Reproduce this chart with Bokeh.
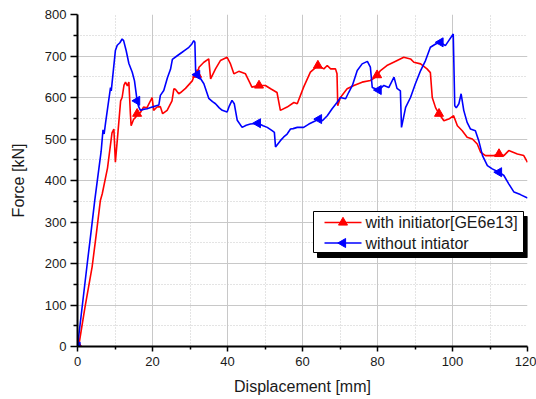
import numpy as np
from bokeh.plotting import figure
from bokeh.models import Range1d, FixedTicker, Label
from bokeh.embed import file_html
from bokeh.resources import INLINE

# ---- data (Displacement [mm], Force [kN]) ----
red_x = [0.3, 2.0, 3.9, 5.0, 6.1, 6.6, 8.0, 9.2, 9.7, 10.1, 10.6, 11.5, 11.9, 12.4, 12.8, 13.3, 13.7,
         14.1, 14.3, 15.0, 15.5, 15.9, 16.8, 17.6, 18.5, 19.9, 20.3, 21.2, 22.1, 22.7, 23.9, 25.2,
         25.7, 26.1, 27.0, 27.5, 28.8, 30.6, 31.0, 31.9, 32.4, 33.7, 35.0, 35.5, 36.8, 38.1, 39.9,
         40.8, 41.7, 43.0, 44.8, 46.1, 46.5, 48.4, 50.1, 51.5, 53.2, 54.1, 55.9, 57.7, 58.6, 60.3,
         62.1, 64.1, 65.7, 66.6, 67.5, 68.8, 69.2, 69.4, 70.1, 71.9, 73.7, 75.9, 78.1, 79.5, 80.8,
         82.5, 84.3, 87.0, 88.8, 89.7, 91.5, 93.2, 94.1, 94.6, 95.5, 96.4, 97.7, 99.0, 100.3, 101.3,
         102.6, 103.9, 105.3, 106.6, 107.5, 108.8, 111.0, 112.4, 113.7, 115.0, 117.3, 119.0, 120.0]
red_y = [0, 95, 192, 270, 352, 368, 430, 515, 524, 444, 496, 592, 600, 630, 637, 628, 637,
         561, 532, 548, 552, 561, 564, 577, 575, 600, 569, 577, 578, 561, 569, 592,
         621, 620, 609, 612, 622, 640, 650, 655, 673, 685, 693, 645, 669, 689, 697,
         681, 657, 663, 657, 633, 625, 629, 629, 621, 612, 569, 577, 588, 585, 625,
         661, 677, 669, 677, 669, 669, 657, 580, 600, 621, 629, 637, 641, 649, 665,
         677, 685, 697, 693, 685, 681, 669, 660, 600, 575, 561, 544, 548, 556, 532,
         520, 504, 500, 488, 468, 460, 460, 464, 460, 472, 464, 460, 444]

blue_x = [0, 1.3, 2.6, 3.6, 4.6, 5.5, 6.3, 6.8, 7.1, 7.5, 8.2, 8.8, 9.0, 9.5, 10.1, 10.6, 11.3, 11.9,
          12.3, 13.0, 13.7, 14.6, 15.2, 15.9, 16.3, 16.8, 17.8, 18.6, 19.5, 20.3, 21.0, 21.7, 22.1,
          23.0, 24.0, 24.8, 25.3, 26.5, 27.9, 28.5, 29.7, 30.5, 31.0, 31.3, 31.5, 31.9, 32.5, 33.7,
          35.0, 36.0, 36.8, 37.8, 38.6, 39.9, 40.5, 41.2, 41.8, 42.6, 43.9, 45.0, 46.1, 48.1, 49.5,
          50.6, 51.9, 52.5, 52.8, 54.1, 55.0, 55.9, 56.8, 57.5, 58.6, 60.3, 61.7, 63.5, 64.4, 65.3,
          66.6, 67.9, 69.2, 70.1, 71.5, 72.3, 73.3, 74.6, 75.9, 77.3, 78.1, 78.6, 80.3, 81.7, 83.0,
          84.4, 85.2, 86.1, 86.4, 87.5, 88.8, 90.1, 91.5, 92.8, 94.1, 95.5, 96.8, 98.1, 99.0, 100.2,
          100.6, 101.0, 101.7, 102.3, 103.0, 103.9, 104.8, 106.1, 107.0, 108.0, 109.3, 110.6, 112.4,
          113.7, 115.0, 116.4, 118.1, 120.0]
blue_y = [0, 100, 200, 275, 352, 415, 470, 522, 512, 540, 585, 624, 616, 660, 713, 726, 732, 741,
          737, 712, 682, 661, 640, 592, 578, 569, 572, 573, 576, 578, 580, 582, 605,
          617, 648, 668, 692, 700, 709, 713, 721, 729, 737, 733, 664, 655, 650, 633,
          598, 590, 585, 575, 569, 565, 580, 593, 585, 545, 528, 533, 536, 538, 532,
          528, 520, 516, 481, 496, 505, 512, 524, 525, 528, 528, 536, 544, 548, 544,
          556, 573, 588, 600, 597, 612, 629, 665, 681, 687, 673, 624, 618, 629, 624,
          649, 622, 616, 528, 576, 600, 633, 665, 689, 721, 729, 733, 725, 737, 753,
          580, 575, 585, 609, 569, 540, 524, 520, 496, 460, 436, 428, 420,
          412, 392, 372, 366, 358]

red_marker_x = [0.3, 15.9, 31.9, 48.4, 64.1, 79.9, 96.4, 112.4]
blue_marker_x = [0, 15.9, 31.9, 48.1, 64.4, 80.3, 96.8, 112.4]

x_ticks = [0, 20, 40, 60, 80, 100, 120]
x_minor = [10, 30, 50, 70, 90, 110]
y_ticks = [0, 100, 200, 300, 400, 500, 600, 700, 800]
y_minor = [50, 150, 250, 350, 450, 550, 650, 750]

labels = ["with initiator[GE6e13]", "without intiator"]
colors = ["#ff0000", "#0000ff"]

FONT = "Liberation Sans"
X0, X1, Y0, Y1 = 0, 120, 0, 800
FRAME_L, FRAME_T, FRAME_W, FRAME_H = 77, 14, 450, 332

p = figure(width=536, height=399, output_backend="svg", toolbar_location=None,
           x_range=Range1d(X0, X1), y_range=Range1d(Y0, Y1),
           min_border_left=77, min_border_right=9, min_border_top=14, min_border_bottom=53)
p.outline_line_color = None
p.background_fill_color = "white"
p.border_fill_color = "white"

# axes
p.xaxis.ticker = FixedTicker(ticks=x_ticks, minor_ticks=x_minor)
p.yaxis.ticker = FixedTicker(ticks=y_ticks, minor_ticks=y_minor)
p.xaxis.axis_label = "Displacement [mm]"
p.yaxis.axis_label = "Force [kN]"
for ax in (p.xaxis[0], p.yaxis[0]):
    ax.axis_line_color = "black"
    ax.axis_line_width = 2
    ax.major_tick_line_color = "black"
    ax.major_tick_line_width = 1.5
    ax.minor_tick_line_color = "black"
    ax.minor_tick_line_width = 1.5
    ax.major_tick_in = 0
    ax.minor_tick_in = 0
    ax.major_label_text_font = FONT
    ax.major_label_text_font_size = "13px"
    ax.major_label_text_color = "#1a1a1a"
    ax.axis_label_text_font = FONT
    ax.axis_label_text_font_size = "16px"
    ax.axis_label_text_font_style = "normal"
    ax.axis_label_text_color = "#1a1a1a"
p.xaxis.major_tick_out = 5
p.xaxis.minor_tick_out = 3
p.xaxis.major_label_standoff = 5
p.xaxis.axis_label_standoff = 9
p.yaxis.major_tick_out = 7
p.yaxis.minor_tick_out = 4
p.yaxis.major_label_standoff = 4
p.yaxis.axis_label_standoff = 15

# grids
p.xgrid.ticker = FixedTicker(ticks=x_ticks[1:-1], minor_ticks=x_minor)
p.ygrid.ticker = FixedTicker(ticks=y_ticks[1:-1], minor_ticks=y_minor)
for g in (p.xgrid[0], p.ygrid[0]):
    g.grid_line_color = "#c8c8c8"
    g.grid_line_width = 1
    g.minor_grid_line_color = "#c8c8c8"
    g.minor_grid_line_width = 1
    g.minor_grid_line_dash = "1 2"

# series
p.line(red_x, red_y, line_color=colors[0], line_width=1.6)
p.scatter(red_marker_x, list(np.interp(red_marker_x, red_x, red_y)), marker="triangle",
          size=9, fill_color=colors[0], line_color=colors[0])
p.line(blue_x, blue_y, line_color=colors[1], line_width=1.6)
p.scatter(blue_marker_x, list(np.interp(blue_marker_x, blue_x, blue_y)), marker="triangle",
          angle=np.pi / 2, size=9, fill_color=colors[1], line_color=colors[1])

# ---- legend (drawn by hand so the blue marker can point left) ----
def dx(px):  # canvas pixel -> data x
    return X0 + (px - FRAME_L) / FRAME_W * (X1 - X0)

def dy(py):  # canvas pixel -> data y
    return Y0 + (FRAME_T + FRAME_H - py) / FRAME_H * (Y1 - Y0)

box_l, box_r, box_t, box_b = 313, 523, 211, 252
sh = 4
p.quad(left=[dx(box_l + sh)], right=[dx(box_r + sh)], top=[dy(box_t + sh + 1)], bottom=[dy(box_b + sh + 1)],
       fill_color="black", line_color="black")
p.quad(left=[dx(box_l)], right=[dx(box_r)], top=[dy(box_t)], bottom=[dy(box_b)],
       fill_color="white", line_color="black", line_width=1)
row_y = [222, 242.5]
for i in range(2):
    p.segment(x0=[dx(box_l + 11)], x1=[dx(box_l + 48)], y0=[dy(row_y[i])], y1=[dy(row_y[i])],
              line_color=colors[i], line_width=1.6)
    p.scatter([dx(box_l + 29.5)], [dy(row_y[i])], marker="triangle", size=9,
              angle=0 if i == 0 else np.pi / 2, fill_color=colors[i], line_color=colors[i])
    p.add_layout(Label(x=dx(box_l + 52), y=dy(row_y[i]), text=labels[i], text_font=FONT,
                       text_font_size="16px", text_color="#1a1a1a", text_baseline="middle",
                       text_align="left"))

open("out.html", "w").write(file_html(p, INLINE))
